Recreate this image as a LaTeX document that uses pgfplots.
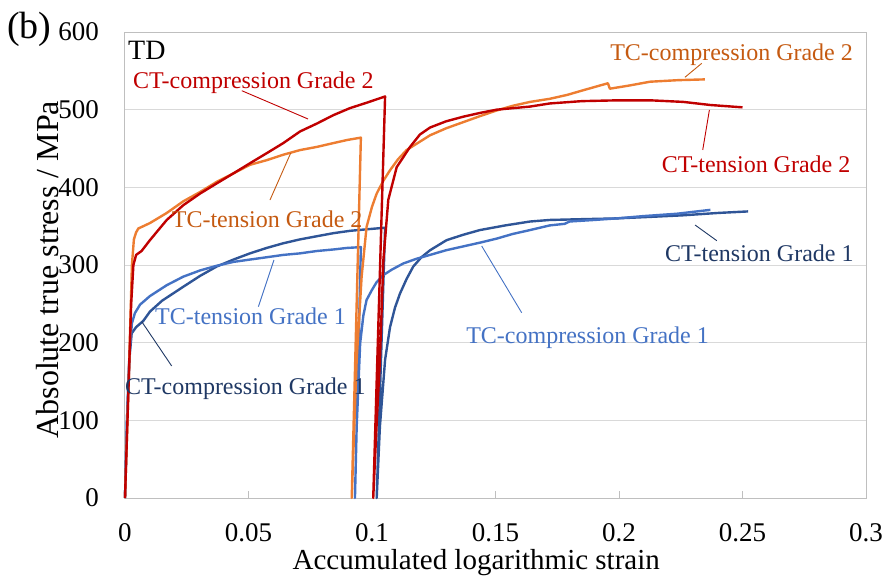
\documentclass[border=0pt]{standalone}
\usepackage{fontspec}
\setmainfont{Liberation Serif}
\usepackage{pgfplots}
\pgfplotsset{compat=1.18}
\definecolor{cred}{RGB}{192,0,0}
\definecolor{corange}{RGB}{237,125,49}
\definecolor{corangetxt}{RGB}{197,90,17}
\definecolor{clblue}{RGB}{68,114,196}
\definecolor{cdblue}{RGB}{47,85,151}
\definecolor{cnavy}{RGB}{31,56,100}
\definecolor{framegray}{RGB}{191,191,191}
\definecolor{gridgray}{RGB}{217,217,217}
\begin{document}
\begin{tikzpicture}
\useasboundingbox (-125pt,-78pt) rectangle (758pt,498pt);
\begin{axis}[
  scale only axis, width=741pt, height=466pt,
  xmin=0, xmax=0.3, ymin=0, ymax=600,
  xtick={0,0.05,0.1,0.15,0.2,0.25,0.3},
  xticklabels={0,0.05,0.1,0.15,0.2,0.25,0.3},
  ytick={0,100,200,300,400,500,600},
  scaled x ticks=false,
  /pgf/number format/assume math mode=true,
  ymajorgrids, grid style={gridgray, line width=1pt},
  axis line style={framegray, line width=1pt},
  tick align=inside, xtick pos=lower, major tick length=7pt,
  xtick style={framegray, line width=1pt},
  ytick style={draw=none},
  xticklabel style={font=\fontsize{27}{30}\selectfont, inner sep=0pt, anchor=north, yshift=-25pt},
  yticklabel style={font=\fontsize{27}{30}\selectfont, inner sep=0pt, anchor=east, xshift=-26pt},
  xlabel={Accumulated logarithmic strain},
  ylabel={Absolute true stress / MPa},
  xlabel style={font=\fontsize{29}{32}\selectfont, at={(axis description cs:0.474,-0.1545)}, anchor=base, inner sep=0pt},
  ylabel style={font=\fontsize{32}{35}\selectfont, at={(axis description cs:-0.0904,0.49)}, anchor=base, rotate=0, inner sep=0pt},
  clip=false,
  every axis plot/.append style={line width=2.4pt, line join=round, no markers},
]
% CT Grade 1 (compression then tension) - dark blue
\addplot[cdblue] coordinates {
(0,0) (0.0008,100) (0.0018,180) (0.0027,212) (0.0045,220) (0.0074,228) (0.0101,240) (0.015,254)
(0.0236,272) (0.0304,286) (0.0371,298) (0.0439,307) (0.0506,315) (0.0574,322) (0.0641,328)
(0.0709,333) (0.0776,337) (0.0844,341) (0.0911,344) (0.0980,346) (0.1053,348)
(0.1019,0)
(0.1032,92) (0.1053,178) (0.1073,220) (0.1093,245) (0.1113,263) (0.1140,282) (0.1167,298)
(0.1200,310) (0.1235,319) (0.1302,332) (0.1370,339) (0.1437,345) (0.1540,351) (0.1640,356)
(0.1720,358) (0.1850,359) (0.1990,360) (0.2130,362) (0.2260,364) (0.2400,367) (0.2523,369)
};
% TC Grade 1 (tension then compression) - light blue
\addplot[clblue] coordinates {
(0,0) (0.0008,100) (0.0018,185) (0.0028,225) (0.0040,238) (0.0061,249) (0.0101,260)
(0.0169,274) (0.0236,285) (0.0304,293) (0.0371,299) (0.0439,304) (0.0506,307) (0.0574,310)
(0.0641,313) (0.0709,315) (0.0776,318) (0.0844,320) (0.0900,322) (0.0955,323)
(0.0931,0)
(0.0938,92) (0.0952,199) (0.0965,235) (0.0978,255) (0.1000,268) (0.1019,278) (0.1046,287)
(0.1080,294) (0.1127,302) (0.1180,308) (0.1235,313) (0.1300,319) (0.1370,324) (0.1440,329)
(0.1505,334) (0.1570,340) (0.1640,345) (0.1720,351) (0.1780,353) (0.1800,356) (0.1900,358)
(0.1990,360) (0.2100,363) (0.2234,366) (0.2370,371)
};
% TC Grade 2 (tension then compression) - orange
\addplot[corange] coordinates {
(0,0) (0.0015,150) (0.0028,300) (0.0036,333) (0.0045,342) (0.0054,347) (0.0101,354)
(0.0169,367) (0.0236,382) (0.0304,394) (0.0371,407) (0.0439,418) (0.0506,429) (0.0574,435)
(0.0641,442) (0.0709,448) (0.0776,452) (0.0844,457) (0.0900,461) (0.0955,464)
(0.0918,0)
(0.0928,90) (0.0938,178) (0.0958,285) (0.0978,349) (0.1000,375) (0.1019,392) (0.1045,408)
(0.1073,422) (0.1105,436) (0.1140,448) (0.1190,458) (0.1235,467) (0.1300,476) (0.1370,484)
(0.1440,492) (0.1505,499) (0.1570,505) (0.1640,510) (0.1720,514) (0.1790,519) (0.1855,525)
(0.1955,534) (0.1963,527) (0.2040,531) (0.2126,536) (0.2240,538) (0.2348,539)
};
% CT Grade 2 (compression then tension) - red
\addplot[cred] coordinates {
(0,0) (0.0010,100) (0.0025,250) (0.0034,300) (0.0045,313) (0.0067,318) (0.0101,332)
(0.0169,358) (0.0236,377) (0.0304,392) (0.0371,405) (0.0439,418) (0.0506,431) (0.0574,444)
(0.0641,457) (0.0709,472) (0.0776,482) (0.0844,493) (0.0911,502) (0.0979,509) (0.1053,517)
(0.1005,0)
(0.1018,90) (0.1032,178) (0.1046,306) (0.1066,384) (0.1100,426) (0.1154,452) (0.1194,468)
(0.1235,477) (0.1300,485) (0.1370,491) (0.1440,496) (0.1505,500) (0.1640,504) (0.1720,508)
(0.1850,511) (0.1990,512) (0.2130,512) (0.2260,510) (0.2370,506) (0.2500,503)
};
% leader lines
\draw[cred, line width=0.9pt] (axis cs:0.0473,524.4) -- (axis cs:0.0741,488.0);
\draw[corangetxt, line width=0.9pt] (axis cs:0.0587,383.7) -- (axis cs:0.0671,444.2);
\draw[clblue, line width=0.9pt] (axis cs:0.0540,246.3) -- (axis cs:0.0603,306.4);
\draw[cnavy, line width=0.9pt] (axis cs:0.0189,170) -- (axis cs:0.0068,227);
\draw[corangetxt, line width=0.9pt] (axis cs:0.2267,541.7) -- (axis cs:0.2335,559.7);
\draw[cred, line width=0.9pt] (axis cs:0.2366,499.6) -- (axis cs:0.2339,448.1);
\draw[cnavy, line width=0.9pt] (axis cs:0.2308,351.5) -- (axis cs:0.2396,331.3);
\draw[clblue, line width=0.9pt] (axis cs:0.1606,238.6) -- (axis cs:0.1444,324.5);
% labels
\begin{scope}[every node/.style={anchor=base west, inner sep=0pt, font=\fontsize{24}{28}\selectfont}]
\node[font=\fontsize{28}{32}\selectfont] at (axis cs:0.0012,564) {TD};
\node[text=cred] at (axis cs:0.00324,527.5) {CT-compression Grade 2};
\node[text=corangetxt] at (axis cs:0.0189,348.6) {TC-tension Grade 2};
\node[text=clblue] at (axis cs:0.01215,222.8) {TC-tension Grade 1};
\node[text=cnavy] at (axis cs:0.0,133.9) {CT-compression Grade 1};
\node[text=corangetxt] at (axis cs:0.1964,563.1) {TC-compression Grade 2};
\node[text=cred] at (axis cs:0.2173,418.9) {CT-tension Grade 2};
\node[text=cnavy] at (axis cs:0.2186,304.3) {CT-tension Grade 1};
\node[text=clblue] at (axis cs:0.1381,199.2) {TC-compression Grade 1};
\node[font=\fontsize{38}{42}\selectfont] at (axis description cs:-0.1592,0.987) {(b)};
\end{scope}
\end{axis}
\end{tikzpicture}
\end{document}
